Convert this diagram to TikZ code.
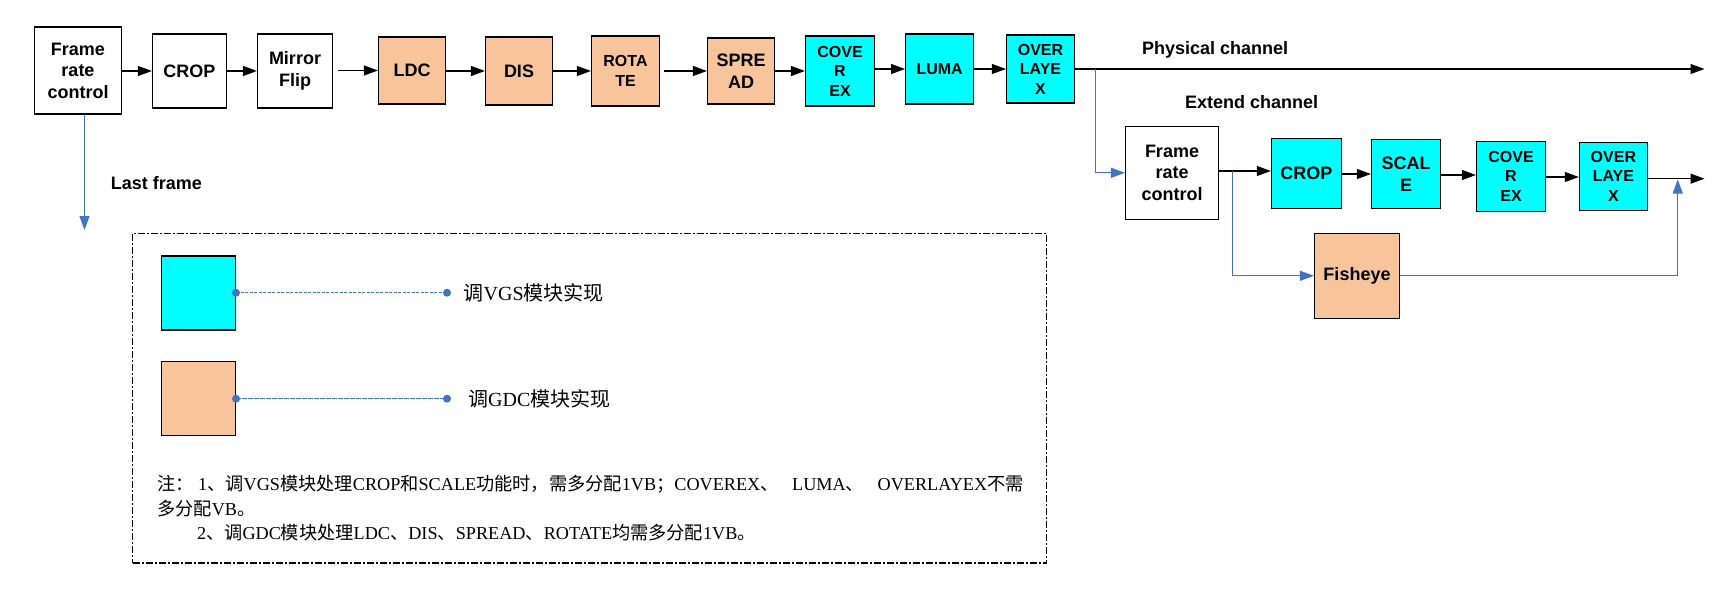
\documentclass[tikz,border=0pt]{standalone}
\usepackage{fontspec}
\setmainfont{Liberation Sans}
\newfontfamily\cjk{Noto Sans CJK SC}
\newfontfamily\tms{Liberation Serif}
\newcommand{\zh}[1]{{\cjk #1}}
\usetikzlibrary{arrows.meta}
\definecolor{vgs}{HTML}{00FFFF}
\definecolor{gdc}{HTML}{F8C49C}
\definecolor{lblue}{HTML}{4472C4}
\tikzset{
 blk/.style={draw=black, line width=1.2pt, inner sep=0pt, align=center, font=\bfseries\fontsize{18}{21.5}\selectfont},
 sm/.style={font=\bfseries\fontsize{16}{19.5}\selectfont},
 vgsbox/.style={blk, fill=vgs},
 gdcbox/.style={blk, fill=gdc},
 arr/.style={draw=black, line width=1.2pt, -{Triangle[length=14pt,width=10pt]}},
 barr/.style={draw=lblue, line width=1.1pt, -{Triangle[length=14pt,width=10pt]}},
 lbl/.style={anchor=west, font=\bfseries\fontsize{18}{21.5}\selectfont, inner sep=0pt},
 note/.style={anchor=west, inner sep=0pt, font=\tms\fontsize{18.2}{21}\selectfont},
 leglbl/.style={anchor=west, inner sep=0pt, font=\tms\fontsize{20}{23}\selectfont},
 legframe/.style={draw=black, line width=1.1pt, dash pattern=on 7pt off 2pt on 2pt off 2pt, inner sep=0pt},
 dot/.style={fill=lblue},
}
\begin{document}
\begin{tikzpicture}[x=1pt,y=-1pt]
\useasboundingbox (0,0) rectangle (1735,599);

% top row
\node[blk, minimum width=87pt, minimum height=87pt] (f1) at (78,70.5) {Frame\\rate\\control};
\node[blk, minimum width=74pt, minimum height=74pt] (crop1) at (189.5,71) {CROP};
\node[blk, minimum width=75pt, minimum height=74pt] (mir) at (295,71) {Mirror\\Flip};
\node[gdcbox, minimum width=67pt, minimum height=67pt] (ldc) at (412,70.5) {LDC};
\node[gdcbox, minimum width=67pt, minimum height=68pt] (dis) at (519,71) {DIS};
\node[gdcbox, sm, minimum width=68pt, minimum height=70pt] (rot) at (625.5,71) {ROTA\\TE};
\node[gdcbox, minimum width=67pt, minimum height=66pt] (spr) at (741,71) {SPRE\\AD};
\node[vgsbox, sm, minimum width=69pt, minimum height=70pt] (cov) at (840,71) {COVE\\R\\EX};
\node[vgsbox, sm, minimum width=68pt, minimum height=70pt] (luma) at (939.6,69) {LUMA};
\node[vgsbox, sm, minimum width=68pt, minimum height=68pt] (ovl) at (1040.5,69) {OVER\\LAYE\\X};

\draw[arr] (f1.east |- crop1.west) -- (crop1.west);
\draw[arr] (crop1.east) -- (mir.west);
\draw[arr] ([xshift=5pt]mir.east |- ldc.west) -- (ldc.west);
\draw[arr] (ldc.east |- dis.west) -- (dis.west);
\draw[arr] (dis.east |- rot.west) -- (rot.west);
\draw[arr] ([xshift=4pt]rot.east |- spr.west) -- (spr.west);
\draw[arr] (spr.east |- cov.west) -- (cov.west);
\draw[arr] (cov.east |- luma.west) -- (luma.west);
\draw[arr] (luma.east |- ovl.west) -- (ovl.west);

\coordinate (pend) at (1704.5,69);
\draw[arr] (ovl.east) -- (pend);
\node[lbl] (phys) at (1141.8,50) {Physical channel};

% extend channel
\node[lbl] (ext) at (1185,101.7) {Extend channel};
\node[blk, minimum width=93pt, minimum height=93pt] (f2) at (1172,172.8) {Frame\\rate\\control};
\node[vgsbox, minimum width=70pt, minimum height=70pt] (crop2) at (1306.4,173.5) {CROP};
\node[vgsbox, minimum width=69pt, minimum height=69pt] (scl) at (1406,174) {SCAL\\E};
\node[vgsbox, sm, minimum width=69pt, minimum height=70pt] (cov2) at (1511,176.3) {COVE\\R\\EX};
\node[vgsbox, sm, minimum width=68pt, minimum height=68pt] (ovl2) at (1613.4,176.3) {OVER\\LAYE\\X};
\node[gdcbox, minimum width=85pt, minimum height=85pt] (fish) at (1357,275.8) {Fisheye};

\coordinate (br1) at (1095.5,69);
\draw[barr] (br1) |- (f2.west);

\draw[arr] (f2.east |- 0,171) -- (crop2.west |- 0,171);
\draw[arr] (crop2.east |- 0,174) -- (scl.west |- 0,174);
\draw[arr] (scl.east |- 0,175) -- (cov2.west |- 0,175);
\draw[arr] (cov2.east |- 0,177) -- (ovl2.west |- 0,177);
\coordinate (eend) at (1704.5,178.7);
\draw[arr] (ovl2.east |- eend) -- (eend);

\coordinate (br2) at (1232.5,171);
\draw[barr] (br2) |- (fish.west);
\coordinate (br3) at (1677.7,179.5);
\draw[barr] (fish.east) -| (br3);

% last frame
\coordinate (lf) at (84.5,230);
\draw[barr] (f1.south -| lf) -- (lf);
\node[lbl] (last) at (110.6,182.6) {Last frame};

% legend
\node[legframe, minimum width=914pt, minimum height=329.5pt] (legend) at (589.8,398.25) {};
\node[vgsbox, minimum width=74pt, minimum height=74pt] (lv) at (198.4,293) {};
\node[gdcbox, minimum width=74pt, minimum height=74pt] (lg) at (198.4,398.3) {};
\coordinate (lvd) at (447,292.7);
\coordinate (lgd) at (447,398.7);
\draw[lblue, line width=0.9pt, dash pattern=on 3pt off 1.5pt] (lv.east |- lvd) -- (lvd);
\draw[lblue, line width=1.4pt, dash pattern=on 5pt off 1pt] (lg.east |- lgd) -- (lgd);
\fill[dot] (lv.east |- lvd) circle (4pt);
\fill[dot] (lvd) circle (4pt);
\fill[dot] (lg.east |- lgd) circle (4pt);
\fill[dot] (lgd) circle (4pt);
\node[leglbl] (lvt) at (463.5,292.7) {\zh{调}VGS\zh{模块实现}};
\node[leglbl] (lgt) at (468,398.7) {\zh{调}GDC\zh{模块实现}};

\node[note] (n1) at (157,484.3) {\zh{注：} 1\zh{、调}VGS\zh{模块处理}CROP\zh{和}SCALE\zh{功能时，需多分配}1VB\zh{；}COVEREX\zh{、}\ \ \ LUMA\zh{、}\ \ \ OVERLAYEX\zh{不需}};
\node[note] (n2) at (157,508.7) {\zh{多分配}VB\zh{。}};
\node[note] (n3) at (196.8,532.3) {2\zh{、调}GDC\zh{模块处理}LDC\zh{、}DIS\zh{、}SPREAD\zh{、}ROTATE\zh{均需多分配}1VB\zh{。}};

\end{tikzpicture}
\end{document}
